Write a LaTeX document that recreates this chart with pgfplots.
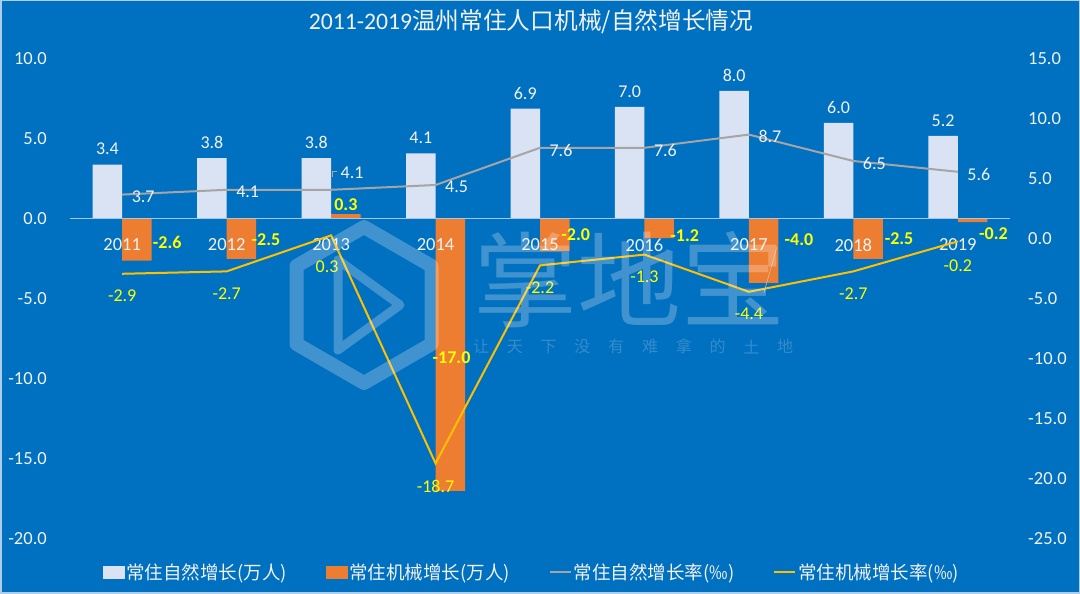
\documentclass[border=0pt]{standalone}
\usepackage{pgfplots}
\usepackage{pgfplotstable}
\pgfplotsset{compat=1.18}
\usepackage{fontspec}
\setmainfont{Carlito}
\newfontfamily\cjk{Noto Sans CJK SC}
\definecolor{bg}{RGB}{0,112,192}
\definecolor{natbar}{RGB}{218,227,243}
\definecolor{mechbar}{RGB}{237,125,49}
\definecolor{natline}{RGB}{165,165,165}
\definecolor{mechline}{RGB}{255,192,0}
\definecolor{lab}{RGB}{255,255,0}
\definecolor{txt}{RGB}{242,242,242}
\definecolor{zeroline}{RGB}{166,200,232}
\definecolor{frame}{RGB}{173,205,235}

\pgfplotstableread{
x nat mech natr mechr
0 3.4 -2.6 3.7 -2.9
1 3.8 -2.5 4.1 -2.7
2 3.8 0.3 4.1 0.3
3 4.1 -17.0 4.5 -18.7
4 6.9 -2.0 7.6 -2.2
5 7.0 -1.2 7.6 -1.3
6 8.0 -4.0 8.7 -4.4
7 6.0 -2.5 6.5 -2.7
8 5.2 -0.2 5.6 -0.2
}\datatable

\tikzset{
  natlab/.style={text=txt, font=\fontsize{18bp}{21bp}\selectfont, inner sep=0pt},
  mechlab/.style={text=lab, font=\bfseries\fontsize{18bp}{21bp}\selectfont, inner sep=0pt},
  ylab/.style={text=lab, font=\fontsize{18bp}{21bp}\selectfont, inner sep=0pt},
  catlab/.style={text=txt, font=\fontsize{18.5bp}{22bp}\selectfont, inner sep=0pt},
}
\pgfplotsset{
  lineleg/.style={legend image code/.code={\draw[##1] (0bp,0bp) -- (21bp,0bp);}},
  natleg/.style={legend image code/.code={\fill[natbar] (0bp,-6bp) rectangle (21bp,6bp);}},
  mechleg/.style={legend image code/.code={\fill[mechbar] (0bp,-6bp) rectangle (21bp,6bp);}},
  common/.style={
    at={(70bp,55bp)}, anchor=south west,
    scale only axis, width=940bp, height=480bp,
    xmin=-0.5, xmax=8.5,
    xtick=\empty,
    axis line style={draw=none},
    major tick length=0pt,
    clip=false,
    yticklabel style={text=txt, font=\fontsize{18.5bp}{22bp}\selectfont, inner sep=0pt,
      /pgf/number format/fixed, /pgf/number format/fixed zerofill,
      /pgf/number format/precision=1, /pgf/number format/assume math mode=true},
  }
}

\begin{document}
\begin{tikzpicture}[x=1bp,y=1bp]
\fill[bg] (0,0) rectangle (1080,594);
\useasboundingbox (0,0) rectangle (1080,594);
\node[text=txt, font=\fontsize{23.7bp}{28bp}\selectfont, inner sep=0pt] at (531,572) {2011-2019{\cjk 温州常住人口机械/自然增长情况}};

% left axis: bars
\begin{axis}[common,
  ymin=-20, ymax=10, ytick={-20,-15,...,10},
  ytick pos=left,
  yticklabel style={anchor=east, xshift=-23bp},
]
\addplot[ybar, bar width=29.5bp, bar shift=-14.75bp, fill=natbar, draw=none] table[x=x,y=nat]{\datatable};
\addplot[ybar, bar width=29.5bp, bar shift=14.75bp, fill=mechbar, draw=none] table[x=x,y=mech]{\datatable};
\draw[zeroline, line width=1bp] (axis cs:-0.5,0) -- (axis cs:8.5,0);
% category labels
\node[catlab, yshift=-26bp] at (axis cs:0,0) {2011};
\node[catlab, yshift=-26bp] at (axis cs:1,0) {2012};
\node[catlab, yshift=-26bp] at (axis cs:2,0) {2013};
\node[catlab, yshift=-26bp] at (axis cs:3,0) {2014};
\node[catlab, yshift=-26bp] at (axis cs:4,0) {2015};
\node[catlab, yshift=-26bp] at (axis cs:5,0) {2016};
\node[catlab, yshift=-26bp] at (axis cs:6,0) {2017};
\node[catlab, yshift=-26bp] at (axis cs:7,0) {2018};
\node[catlab, yshift=-26bp] at (axis cs:8,0) {2019};
% natural bar labels
\node[natlab, xshift=-14.75bp, yshift=15.5bp] at (axis cs:0,3.4) {3.4};
\node[natlab, xshift=-14.75bp, yshift=15.5bp] at (axis cs:1,3.8) {3.8};
\node[natlab, xshift=-14.75bp, yshift=15.5bp] at (axis cs:2,3.8) {3.8};
\node[natlab, xshift=-14.75bp, yshift=15.5bp] at (axis cs:3,4.1) {4.1};
\node[natlab, xshift=-14.75bp, yshift=15.5bp] at (axis cs:4,6.9) {6.9};
\node[natlab, xshift=-14.75bp, yshift=15.5bp] at (axis cs:5,7.0) {7.0};
\node[natlab, xshift=-14.75bp, yshift=15.5bp] at (axis cs:6,8.0) {8.0};
\node[natlab, xshift=-14.75bp, yshift=15.5bp] at (axis cs:7,6.0) {6.0};
\node[natlab, xshift=-14.75bp, yshift=15.5bp] at (axis cs:8,5.2) {5.2};
% mechanical bar labels
\node[mechlab, xshift=45bp, yshift=-23.3bp] at (axis cs:0,0) {-2.6};
\node[mechlab, xshift=39.3bp, yshift=-21bp] at (axis cs:1,0) {-2.5};
\node[mechlab, xshift=14.75bp, yshift=14.7bp] at (axis cs:2,0) {0.3};
\node[mechlab, xshift=16bp, yshift=-138.3bp] at (axis cs:3,0) {-17.0};
\node[mechlab, xshift=35.7bp, yshift=-16bp] at (axis cs:4,0) {-2.0};
\node[mechlab, xshift=40.3bp, yshift=-17bp] at (axis cs:5,0) {-1.2};
\node[mechlab, xshift=50bp, yshift=-21bp] at (axis cs:6,0) {-4.0};
\node[mechlab, xshift=45.7bp, yshift=-19.3bp] at (axis cs:7,0) {-2.5};
\node[mechlab, xshift=35.7bp, yshift=-14.3bp] at (axis cs:8,0) {-0.2};
\end{axis}

% right axis: lines
\begin{axis}[common,
  ymin=-25, ymax=15, ytick={-25,-20,...,15},
  ytick pos=right,
  yticklabel style={anchor=west, xshift=18bp},
  legend columns=4,
  legend cell align=left,
  legend style={draw=none, fill=none, text=txt,
    font=\cjk\fontsize{18.5bp}{22bp}\selectfont,
    at={(0.4915,-0.06875)}, anchor=center,
    nodes={inner sep=2bp},
    /tikz/every even column/.append style={column sep=37bp}},
]
\addlegendimage{natleg}
\addlegendentry{常住自然增长(万人)}
\addlegendimage{mechleg}
\addlegendentry{常住机械增长(万人)}
\addplot[natline, line width=2bp, mark=none, lineleg] table[x=x,y=natr]{\datatable};
\addlegendentry{常住自然增长率(‰)}
\addplot[mechline, line width=2bp, mark=none, lineleg] table[x=x,y=mechr]{\datatable};
\addlegendentry{常住机械增长率(‰)}
% natural rate labels
\node[natlab, xshift=21bp, yshift=-2.3bp] at (axis cs:0,3.7) {3.7};
\node[natlab, xshift=21bp, yshift=-2.3bp] at (axis cs:1,4.1) {4.1};
\node[natlab, xshift=21bp, yshift=17.5bp] at (axis cs:2,4.1) {4.1};
\draw[natline, line width=0.75bp] (axis cs:2,4.1) ++(1bp,13bp) -- ++(0bp,5bp) -- ++(5bp,0bp);
\node[natlab, xshift=21bp, yshift=-2.3bp] at (axis cs:3,4.5) {4.5};
\node[natlab, xshift=21bp, yshift=-2.3bp] at (axis cs:4,7.6) {7.6};
\node[natlab, xshift=21bp, yshift=-2.3bp] at (axis cs:5,7.6) {7.6};
\node[natlab, xshift=21bp, yshift=-2.3bp] at (axis cs:6,8.7) {8.7};
\node[natlab, xshift=21bp, yshift=-2.3bp] at (axis cs:7,6.5) {6.5};
\node[natlab, xshift=21bp, yshift=-2.3bp] at (axis cs:8,5.6) {5.6};
% mechanical rate labels
\node[ylab, yshift=-22bp] at (axis cs:0,-2.9) {-2.9};
\node[ylab, yshift=-22bp] at (axis cs:1,-2.7) {-2.7};
\node[ylab, xshift=-4bp, yshift=-31bp] at (axis cs:2,0.3) {0.3};
\node[ylab, yshift=-22.6bp] at (axis cs:3,-18.7) {-18.7};
\node[ylab, yshift=-22bp] at (axis cs:4,-2.2) {-2.2};
\node[ylab, yshift=-22bp] at (axis cs:5,-1.3) {-1.3};
\node[ylab, yshift=-22bp] at (axis cs:6,-4.4) {-4.4};
\node[ylab, yshift=-22bp] at (axis cs:7,-2.7) {-2.7};
\node[ylab, yshift=-24bp] at (axis cs:8,-0.2) {-0.2};
\draw[natline!60!white, line width=0.5bp] (axis cs:6,-4.4) ++(15bp,-1bp) -- ++(13bp,46bp);
\end{axis}

% watermark
\begin{scope}[opacity=0.25]
\draw[white, line width=14bp, line join=round]
  (364,367) -- (431.5,328) -- (431.5,250) -- (364,211) -- (296.5,250) -- (296.5,328) -- cycle;
\draw[white, line width=9bp, line join=round] (338,334) -- (338,244) -- (400,289) -- cycle;
\node[white, font=\cjk\fontsize{104bp}{110bp}\selectfont, inner sep=0pt] at (629,314) {掌地宝};
\end{scope}
\begin{scope}[opacity=0.2]
\foreach \c [count=\k from 0] in {让,天,下,没,有,难,拿,的,土,地}
  \node[white, font=\cjk\fontsize{16bp}{18bp}\selectfont, inner sep=0pt] at (481+\k*33.8,247.3) {\c};
\end{scope}
\draw[frame, line width=3bp] (0,0) rectangle (1080,594);
\end{tikzpicture}
\end{document}
